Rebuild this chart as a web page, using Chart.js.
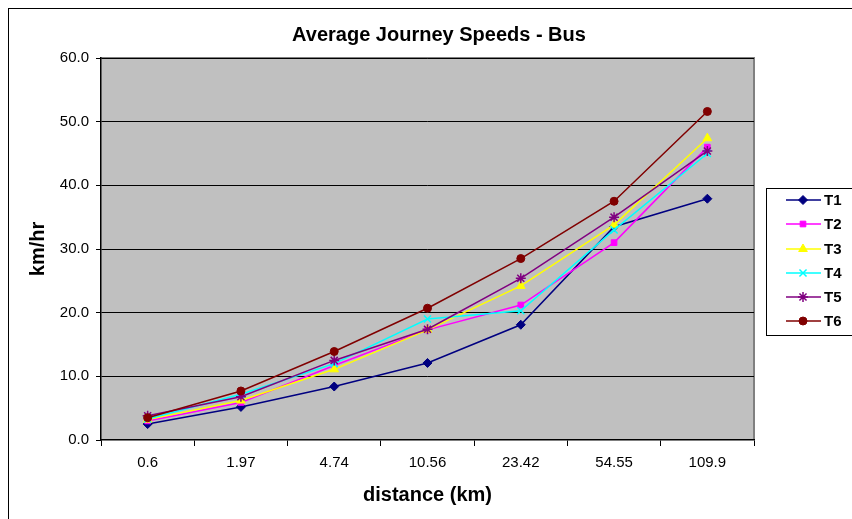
<!DOCTYPE html>
<html>
<head>
<meta charset="utf-8">
<script src="https://cdn.jsdelivr.net/npm/chart.js@4"></script>
<style>
  body { margin: 0; background: #fff; }
  #wrap { width: 852px; height: 519px; }
</style>
</head>
<body>
<div id="wrap"><canvas id="myChart" width="852" height="519"></canvas></div>
<script>
// distances (km)
const distances = ['0.6', '1.97', '4.74', '10.56', '23.42', '54.55', '109.9'];
const seriesNames = ['T1', 'T2', 'T3', 'T4', 'T5', 'T6'];

// average speeds, km/hr
const t1 = [2.5, 5.2, 8.4, 12.1, 18.1, 33.5, 37.9];
const t2 = [3.0, 5.9, 11.7, 17.3, 21.2, 31.0, 46.0];
const t3 = [3.2, 6.2, 11.1, 17.3, 24.2, 33.8, 47.4];
const t4 = [3.3, 7.2, 12.0, 19.0, 20.3, 33.0, 45.0];
const t5 = [3.8, 6.8, 12.5, 17.4, 25.4, 35.0, 45.4];
const t6 = [3.5, 7.7, 13.9, 20.7, 28.5, 37.5, 51.6];

const yTicks = [0, 10, 20, 30, 40, 50, 60];

const colors = ['#000080', '#FF00FF', '#FFFF00', '#00FFFF', '#800080', '#800000'];
const markers = ['rectRot', 'rect', 'triangle', 'crossRot', 'star', 'circle'];
const sizes = [4.5, 4, 5, 5, 5, 4];
const values = [t1, t2, t3, t4, t5, t6];

const datasets = values.map((v, i) => ({
    label: seriesNames[i],
    data: v,
    borderColor: colors[i],
    backgroundColor: colors[i],
    borderWidth: 1.5,
    pointStyle: markers[i],
    pointRadius: sizes[i],
    pointBorderWidth: (markers[i] === 'crossRot' || markers[i] === 'star') ? 1.5 : 1,
    tension: 0,
    order: 5 - i
}));

const FONT = "'Liberation Sans', Arial, sans-serif";

// grey plot area, frame, title and legend
const decor = {
    id: 'decor',
    beforeDraw(chart) {
        const { ctx, chartArea: a } = chart;
        ctx.save();
        ctx.fillStyle = '#fff';
        ctx.fillRect(0, 0, chart.width, chart.height);
        ctx.strokeStyle = '#000';
        ctx.lineWidth = 1;
        ctx.strokeRect(8.5, 8.5, 900, 600);
        ctx.fillStyle = '#C0C0C0';
        ctx.fillRect(a.left, a.top, a.right - a.left, a.bottom - a.top);
        ctx.strokeStyle = '#808080';
        ctx.lineWidth = 2;
        ctx.beginPath();
        ctx.moveTo(a.left, a.top);
        ctx.lineTo(a.right, a.top);
        ctx.lineTo(a.right, a.bottom);
        ctx.stroke();
        ctx.restore();
    },
    afterDraw(chart) {
        const { ctx } = chart;
        ctx.save();
        ctx.fillStyle = '#000';
        ctx.font = 'bold 20px ' + FONT;
        ctx.textAlign = 'center';
        ctx.textBaseline = 'alphabetic';
        ctx.fillText('Average Journey Speeds - Bus', 439, 41);

        // legend
        ctx.strokeStyle = '#000';
        ctx.lineWidth = 1;
        ctx.strokeRect(766.5, 188.5, 100, 147);
        const rowY = [200, 224, 249, 273, 297, 321];
        ctx.textBaseline = 'middle';
        chart.data.datasets.forEach((ds, i) => {
            const y = rowY[i];
            ctx.strokeStyle = ds.borderColor;
            ctx.lineWidth = 1.5;
            ctx.beginPath();
            ctx.moveTo(786, y);
            ctx.lineTo(821, y);
            ctx.stroke();
            ctx.fillStyle = ds.backgroundColor;
            ctx.strokeStyle = ds.borderColor;
            ctx.lineWidth = ds.pointBorderWidth;
            Chart.helpers.drawPoint(ctx, {
                pointStyle: ds.pointStyle,
                radius: ds.pointRadius,
                rotation: 0,
                borderWidth: ds.pointBorderWidth
            }, 803, y);
            ctx.fillStyle = '#000';
            ctx.font = 'bold 15px ' + FONT;
            ctx.textAlign = 'left';
            ctx.fillText(ds.label, 824, y + 1);
        });
        ctx.restore();
    }
};

new Chart(document.getElementById('myChart'), {
    type: 'line',
    data: { labels: distances, datasets: datasets },
    plugins: [decor],
    options: {
        responsive: false,
        animation: false,
        layout: { padding: { left: 0, right: 98, top: 58, bottom: 0 } },
        plugins: {
            legend: { display: false },
            title: { display: false },
            tooltip: { enabled: false }
        },
        scales: {
            x: {
                offset: true,
                afterFit: s => { s.height = 79; },
                grid: {
                    offset: true,
                    drawOnChartArea: false,
                    drawTicks: true,
                    tickLength: 6,
                    color: '#000'
                },
                border: { color: '#000', width: 1.5 },
                ticks: {
                    color: '#000',
                    padding: 8,
                    font: { family: FONT, size: 15 }
                },
                title: {
                    display: true,
                    text: 'distance (km)',
                    color: '#000',
                    font: { family: FONT, size: 20, weight: 'bold' },
                    padding: { top: 0, bottom: 12 }
                }
            },
            y: {
                min: 0,
                max: 60,
                afterFit: s => { s.width = 101; },
                afterBuildTicks: s => { s.ticks = yTicks.map(v => ({ value: v })); },
                grid: {
                    color: ctx => ctx.tick && ctx.tick.value === 0 ? 'rgba(0,0,0,0)' : '#000',
                    lineWidth: 1,
                    tickLength: 5,
                    tickColor: '#000'
                },
                border: { color: '#000', width: 1.5 },
                ticks: {
                    color: '#000',
                    padding: 7,
                    font: { family: FONT, size: 15 },
                    callback: v => Number(v).toFixed(1)
                },
                title: {
                    display: true,
                    text: 'km/hr',
                    color: '#000',
                    font: { family: FONT, size: 20, weight: 'bold' },
                    padding: { top: 26, bottom: 0 }
                }
            }
        }
    }
});
</script>
</body>
</html>
